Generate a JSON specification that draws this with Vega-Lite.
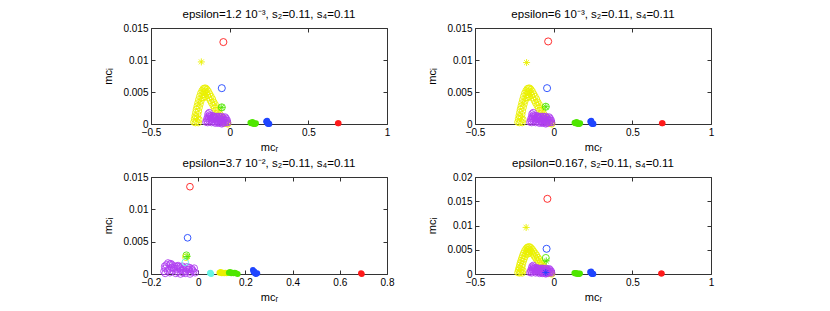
{
"$schema": "https://vega.github.io/schema/vega-lite/v6.json",
"padding": {"left": 102, "top": 8, "right": 5, "bottom": 5},
"config": {
 "view": {"stroke": null},
 "axis": {"domainColor": "#333333", "tickColor": "#333333", "tickSize": -4, "labelPadding": 7, "labelFont": "Liberation Sans", "labelFontSize": 10, "labelColor": "#000000", "titleFont": "Liberation Sans", "titleFontSize": 11, "titleFontWeight": "normal", "titleColor": "#000000", "grid": false, "labelFlush": false, "labelOverlap": false, "titlePadding": 4, "format": ".4~g"},
 "axisY": {"titlePadding": 9},
 "title": {"font": "Liberation Sans", "fontSize": 11.5, "fontWeight": "normal", "frame": "group", "anchor": "middle", "offset": 3, "color": "#000000"}
},
"datasets": {
 "arch": [
  {"s":"yellow","x":-0.228,"y":0.0003},{"s":"yellow","x":-0.224,"y":0.0008},{"s":"yellow","x":-0.22,"y":0.0013},{"s":"yellow","x":-0.216,"y":0.0018},{"s":"yellow","x":-0.212,"y":0.0023},{"s":"yellow","x":-0.207,"y":0.0028},{"s":"yellow","x":-0.202,"y":0.0033},{"s":"yellow","x":-0.197,"y":0.0038},{"s":"yellow","x":-0.191,"y":0.0043},{"s":"yellow","x":-0.184,"y":0.0048},{"s":"yellow","x":-0.176,"y":0.0052},{"s":"yellow","x":-0.168,"y":0.0055},{"s":"yellow","x":-0.16,"y":0.0056},
  {"s":"yellow","x":-0.21,"y":0.0004},{"s":"yellow","x":-0.206,"y":0.0009},{"s":"yellow","x":-0.202,"y":0.0015},{"s":"yellow","x":-0.198,"y":0.002},{"s":"yellow","x":-0.193,"y":0.0026},{"s":"yellow","x":-0.188,"y":0.0031},{"s":"yellow","x":-0.182,"y":0.0036},{"s":"yellow","x":-0.176,"y":0.0041},{"s":"yellow","x":-0.17,"y":0.0046},{"s":"yellow","x":-0.164,"y":0.005},
  {"s":"yellow","x":-0.218,"y":0.0002},{"s":"yellow","x":-0.2,"y":0.0002},{"s":"yellow","x":-0.195,"y":0.0007},{"s":"yellow","x":-0.215,"y":0.0011},
  {"s":"yellow","x":-0.152,"y":0.0056},{"s":"yellow","x":-0.144,"y":0.0054},{"s":"yellow","x":-0.136,"y":0.0051},{"s":"yellow","x":-0.127,"y":0.0047},{"s":"yellow","x":-0.118,"y":0.0043},{"s":"yellow","x":-0.109,"y":0.0039},{"s":"yellow","x":-0.1,"y":0.0034},{"s":"yellow","x":-0.091,"y":0.003},{"s":"yellow","x":-0.082,"y":0.0025},{"s":"yellow","x":-0.073,"y":0.0021},{"s":"yellow","x":-0.064,"y":0.0016},{"s":"yellow","x":-0.055,"y":0.0012},{"s":"yellow","x":-0.046,"y":0.0009},{"s":"yellow","x":-0.037,"y":0.0006},{"s":"yellow","x":-0.028,"y":0.0003},{"s":"yellow","x":-0.02,"y":0.0001},{"s":"yellow","x":-0.012,"y":0.0},
  {"s":"yellow","x":-0.156,"y":0.0051},{"s":"yellow","x":-0.149,"y":0.0048},{"s":"yellow","x":-0.141,"y":0.0045},{"s":"yellow","x":-0.133,"y":0.0041},{"s":"yellow","x":-0.124,"y":0.0037},{"s":"yellow","x":-0.115,"y":0.0033},{"s":"yellow","x":-0.106,"y":0.0029},{"s":"yellow","x":-0.097,"y":0.0025},{"s":"yellow","x":-0.088,"y":0.0021},{"s":"yellow","x":-0.079,"y":0.0017},{"s":"yellow","x":-0.07,"y":0.0013},{"s":"yellow","x":-0.061,"y":0.0009},{"s":"yellow","x":-0.052,"y":0.0006},{"s":"yellow","x":-0.043,"y":0.0003},{"s":"yellow","x":-0.034,"y":0.0001},
  {"s":"yellow","x":-0.162,"y":0.0046},{"s":"yellow","x":-0.157,"y":0.0043},{"s":"yellow","x":-0.166,"y":0.0041},
  {"s":"purple","x":-0.152,"y":0.0003},{"s":"purple","x":-0.146,"y":0.0008},{"s":"purple","x":-0.14,"y":0.0012},{"s":"purple","x":-0.13,"y":0.0018},{"s":"purple","x":-0.125,"y":0.0011},{"s":"purple","x":-0.12,"y":0.0006},{"s":"purple","x":-0.115,"y":0.0002},{"s":"purple","x":-0.11,"y":0.001},{"s":"purple","x":-0.105,"y":0.0013},{"s":"purple","x":-0.1,"y":0.0008},{"s":"purple","x":-0.095,"y":0.0003},{"s":"purple","x":-0.09,"y":0.0011},{"s":"purple","x":-0.085,"y":0.0006},{"s":"purple","x":-0.08,"y":0.0012},{"s":"purple","x":-0.075,"y":0.0002},{"s":"purple","x":-0.07,"y":0.0009},{"s":"purple","x":-0.065,"y":0.0005},{"s":"purple","x":-0.06,"y":0.0011},{"s":"purple","x":-0.055,"y":0.0002},{"s":"purple","x":-0.05,"y":0.0008},{"s":"purple","x":-0.045,"y":0.0004},{"s":"purple","x":-0.04,"y":0.001},{"s":"purple","x":-0.035,"y":0.0003},{"s":"purple","x":-0.03,"y":0.0007},{"s":"purple","x":-0.025,"y":0.0002},{"s":"purple","x":-0.02,"y":0.0005},{"s":"purple","x":-0.012,"y":0.0002},{"s":"purple","x":-0.14,"y":0.0002},{"s":"purple","x":-0.13,"y":0.0005},{"s":"purple","x":-0.11,"y":0.0004},{"s":"purple","x":-0.09,"y":0.0001},{"s":"purple","x":-0.07,"y":0.0001},{"s":"purple","x":-0.05,"y":0.0},{"s":"purple","x":-0.12,"y":0.0013},{"s":"purple","x":-0.1,"y":0.0012},{"s":"purple","x":-0.06,"y":0.0005},{"s":"purple","x":-0.135,"y":0.0009},{"s":"purple","x":-0.028,"y":0.0011},
  {"s":"purple","x":-0.145,"y":0.0005},{"s":"purple","x":-0.118,"y":0.0009},{"s":"purple","x":-0.108,"y":0.0007},{"s":"purple","x":-0.098,"y":0.0011},{"s":"purple","x":-0.088,"y":0.0009},{"s":"purple","x":-0.078,"y":0.0006},{"s":"purple","x":-0.068,"y":0.0012},{"s":"purple","x":-0.058,"y":0.0008},{"s":"purple","x":-0.048,"y":0.0012},{"s":"purple","x":-0.038,"y":0.0006},{"s":"purple","x":-0.022,"y":0.0009},{"s":"purple","x":-0.015,"y":0.0006},{"s":"purple","x":-0.128,"y":0.0014},{"s":"purple","x":-0.138,"y":0.0016},{"s":"purple","x":-0.082,"y":0.0003},{"s":"purple","x":-0.062,"y":0.0002},{"s":"purple","x":-0.042,"y":0.0001}
 ],
 "pts": [
  {"p":1,"m":"o","s":"red","x":-0.04,"y":0.0128},{"p":1,"m":"o","s":"blue","x":-0.05,"y":0.0056},{"p":1,"m":"o","s":"green","x":-0.05,"y":0.0026},
  {"p":1,"m":"*","s":"yellow","x":-0.18,"y":0.0097},{"p":1,"m":"*","s":"green","x":-0.05,"y":0.0026},
  {"p":1,"m":"f","s":"green","x":0.132,"y":0.0002},{"p":1,"m":"f","s":"green","x":0.137,"y":0.0001},{"p":1,"m":"f","s":"green","x":0.142,"y":0.0002},{"p":1,"m":"f","s":"green","x":0.147,"y":0.0001},{"p":1,"m":"f","s":"green","x":0.152,"y":0.0},{"p":1,"m":"f","s":"green","x":0.157,"y":0.0001},{"p":1,"m":"f","s":"green","x":0.162,"y":0.0},{"p":1,"m":"f","s":"green","x":0.167,"y":0.0001},{"p":1,"m":"f","s":"green","x":0.145,"y":0.0003},
  {"p":1,"m":"f","s":"blue","x":0.232,"y":0.0004},{"p":1,"m":"f","s":"blue","x":0.236,"y":0.0003},{"p":1,"m":"f","s":"blue","x":0.24,"y":0.0001},{"p":1,"m":"f","s":"blue","x":0.244,"y":0.0},{"p":1,"m":"f","s":"blue","x":0.248,"y":0.0001},{"p":1,"m":"f","s":"blue","x":0.252,"y":0.0},{"p":1,"m":"f","s":"blue","x":0.238,"y":0.0005},
  {"p":1,"m":"f","s":"red","x":0.688,"y":0.0001},{"p":1,"m":"f","s":"red","x":0.692,"y":0.0001},

  {"p":2,"m":"o","s":"red","x":-0.035,"y":0.0129},{"p":2,"m":"o","s":"blue","x":-0.042,"y":0.0056},{"p":2,"m":"o","s":"green","x":-0.05,"y":0.0027},
  {"p":2,"m":"*","s":"yellow","x":-0.172,"y":0.0096},{"p":2,"m":"*","s":"green","x":-0.05,"y":0.0027},
  {"p":2,"m":"f","s":"green","x":0.133,"y":0.0002},{"p":2,"m":"f","s":"green","x":0.138,"y":0.0001},{"p":2,"m":"f","s":"green","x":0.143,"y":0.0002},{"p":2,"m":"f","s":"green","x":0.148,"y":0.0001},{"p":2,"m":"f","s":"green","x":0.153,"y":0.0},{"p":2,"m":"f","s":"green","x":0.158,"y":0.0001},{"p":2,"m":"f","s":"green","x":0.163,"y":0.0},{"p":2,"m":"f","s":"green","x":0.168,"y":0.0001},{"p":2,"m":"f","s":"green","x":0.146,"y":0.0003},
  {"p":2,"m":"f","s":"blue","x":0.233,"y":0.0004},{"p":2,"m":"f","s":"blue","x":0.237,"y":0.0003},{"p":2,"m":"f","s":"blue","x":0.241,"y":0.0001},{"p":2,"m":"f","s":"blue","x":0.245,"y":0.0},{"p":2,"m":"f","s":"blue","x":0.249,"y":0.0001},{"p":2,"m":"f","s":"blue","x":0.253,"y":0.0},{"p":2,"m":"f","s":"blue","x":0.239,"y":0.0005},
  {"p":2,"m":"f","s":"red","x":0.688,"y":0.0001},{"p":2,"m":"f","s":"red","x":0.692,"y":0.0001},

  {"p":3,"m":"o","s":"purple","x":-0.145,"y":0.0004},{"p":3,"m":"o","s":"purple","x":-0.14,"y":0.0009},{"p":3,"m":"o","s":"purple","x":-0.135,"y":0.0014},{"p":3,"m":"o","s":"purple","x":-0.128,"y":0.0017},{"p":3,"m":"o","s":"purple","x":-0.12,"y":0.0015},{"p":3,"m":"o","s":"purple","x":-0.113,"y":0.001},{"p":3,"m":"o","s":"purple","x":-0.107,"y":0.0005},{"p":3,"m":"o","s":"purple","x":-0.1,"y":0.0012},{"p":3,"m":"o","s":"purple","x":-0.093,"y":0.0008},{"p":3,"m":"o","s":"purple","x":-0.087,"y":0.0003},{"p":3,"m":"o","s":"purple","x":-0.08,"y":0.0011},{"p":3,"m":"o","s":"purple","x":-0.073,"y":0.0006},{"p":3,"m":"o","s":"purple","x":-0.067,"y":0.0012},{"p":3,"m":"o","s":"purple","x":-0.06,"y":0.0009},{"p":3,"m":"o","s":"purple","x":-0.053,"y":0.0004},{"p":3,"m":"o","s":"purple","x":-0.047,"y":0.0011},{"p":3,"m":"o","s":"purple","x":-0.04,"y":0.0007},{"p":3,"m":"o","s":"purple","x":-0.033,"y":0.0003},{"p":3,"m":"o","s":"purple","x":-0.027,"y":0.0008},{"p":3,"m":"o","s":"purple","x":-0.02,"y":0.0004},{"p":3,"m":"o","s":"purple","x":-0.013,"y":0.0002},{"p":3,"m":"o","s":"purple","x":-0.14,"y":0.0001},{"p":3,"m":"o","s":"purple","x":-0.13,"y":0.0005},{"p":3,"m":"o","s":"purple","x":-0.12,"y":0.0002},{"p":3,"m":"o","s":"purple","x":-0.11,"y":0.0014},{"p":3,"m":"o","s":"purple","x":-0.095,"y":0.0001},{"p":3,"m":"o","s":"purple","x":-0.075,"y":0.0},{"p":3,"m":"o","s":"purple","x":-0.055,"y":0.0001},{"p":3,"m":"o","s":"purple","x":-0.035,"y":0.0},{"p":3,"m":"o","s":"purple","x":-0.085,"y":0.0013},{"p":3,"m":"o","s":"purple","x":-0.065,"y":0.0002},
  {"p":3,"m":"o","s":"purple","x":-0.142,"y":0.0012},{"p":3,"m":"o","s":"purple","x":-0.124,"y":0.0008},{"p":3,"m":"o","s":"purple","x":-0.116,"y":0.0016},{"p":3,"m":"o","s":"purple","x":-0.104,"y":0.0009},{"p":3,"m":"o","s":"purple","x":-0.09,"y":0.0012},{"p":3,"m":"o","s":"purple","x":-0.077,"y":0.0009},{"p":3,"m":"o","s":"purple","x":-0.063,"y":0.0006},{"p":3,"m":"o","s":"purple","x":-0.05,"y":0.0008},{"p":3,"m":"o","s":"purple","x":-0.037,"y":0.001},{"p":3,"m":"o","s":"purple","x":-0.024,"y":0.0006},{"p":3,"m":"o","s":"purple","x":-0.017,"y":0.0009},
  {"p":3,"m":"o","s":"red","x":-0.035,"y":0.0135},{"p":3,"m":"o","s":"blue","x":-0.045,"y":0.0056},{"p":3,"m":"o","s":"green","x":-0.05,"y":0.0029},{"p":3,"m":"o","s":"yellow","x":-0.052,"y":0.0026},{"p":3,"m":"o","s":"cyan","x":-0.055,"y":0.0018},
  {"p":3,"m":"*","s":"green","x":-0.047,"y":0.0027},
  {"p":3,"m":"f","s":"cyan","x":0.05,"y":0.0001},{"p":3,"m":"f","s":"cyan","x":0.055,"y":0.0},{"p":3,"m":"f","s":"cyan","x":0.052,"y":0.0002},
  {"p":3,"m":"f","s":"yellow","x":0.09,"y":0.0002},{"p":3,"m":"f","s":"yellow","x":0.095,"y":0.0003},{"p":3,"m":"f","s":"yellow","x":0.1,"y":0.0001},{"p":3,"m":"f","s":"yellow","x":0.105,"y":0.0002},{"p":3,"m":"f","s":"yellow","x":0.11,"y":0.0001},{"p":3,"m":"f","s":"yellow","x":0.115,"y":0.0002},{"p":3,"m":"f","s":"yellow","x":0.12,"y":0.0001},{"p":3,"m":"f","s":"yellow","x":0.125,"y":0.0002},
  {"p":3,"m":"f","s":"green","x":0.13,"y":0.0002},{"p":3,"m":"f","s":"green","x":0.135,"y":0.0003},{"p":3,"m":"f","s":"green","x":0.14,"y":0.0001},{"p":3,"m":"f","s":"green","x":0.145,"y":0.0002},{"p":3,"m":"f","s":"green","x":0.15,"y":0.0001},{"p":3,"m":"f","s":"green","x":0.155,"y":0.0002},{"p":3,"m":"f","s":"green","x":0.16,"y":0.0001},{"p":3,"m":"f","s":"green","x":0.167,"y":0.0},
  {"p":3,"m":"f","s":"blue","x":0.232,"y":0.0006},{"p":3,"m":"f","s":"blue","x":0.235,"y":0.0003},{"p":3,"m":"f","s":"blue","x":0.24,"y":0.0001},{"p":3,"m":"f","s":"blue","x":0.245,"y":0.0},{"p":3,"m":"f","s":"blue","x":0.25,"y":0.0001},{"p":3,"m":"f","s":"blue","x":0.238,"y":0.0004},
  {"p":3,"m":"f","s":"red","x":0.69,"y":0.0001},{"p":3,"m":"f","s":"red","x":0.693,"y":0.0},

  {"p":4,"m":"o","s":"red","x":-0.04,"y":0.0155},{"p":4,"m":"o","s":"blue","x":-0.045,"y":0.0052},{"p":4,"m":"o","s":"green","x":-0.05,"y":0.0033},
  {"p":4,"m":"*","s":"yellow","x":-0.175,"y":0.0096},{"p":4,"m":"*","s":"green","x":-0.047,"y":0.0027},{"p":4,"m":"*","s":"blue","x":-0.05,"y":0.0003},
  {"p":4,"m":"f","s":"green","x":0.132,"y":0.0002},{"p":4,"m":"f","s":"green","x":0.137,"y":0.0001},{"p":4,"m":"f","s":"green","x":0.142,"y":0.0002},{"p":4,"m":"f","s":"green","x":0.147,"y":0.0001},{"p":4,"m":"f","s":"green","x":0.152,"y":0.0},{"p":4,"m":"f","s":"green","x":0.157,"y":0.0001},{"p":4,"m":"f","s":"green","x":0.162,"y":0.0},{"p":4,"m":"f","s":"green","x":0.167,"y":0.0001},
  {"p":4,"m":"f","s":"blue","x":0.232,"y":0.0004},{"p":4,"m":"f","s":"blue","x":0.236,"y":0.0003},{"p":4,"m":"f","s":"blue","x":0.24,"y":0.0001},{"p":4,"m":"f","s":"blue","x":0.244,"y":0.0},{"p":4,"m":"f","s":"blue","x":0.248,"y":0.0001},{"p":4,"m":"f","s":"blue","x":0.252,"y":0.0},{"p":4,"m":"f","s":"blue","x":0.238,"y":0.0005},
  {"p":4,"m":"f","s":"red","x":0.683,"y":0.0001},{"p":4,"m":"f","s":"red","x":0.687,"y":0.0001}
 ]
},
"resolve": {"scale": {"x": "independent", "y": "independent", "color": "independent"}},
"spacing": 5,
"vconcat": [
 {"hconcat": [
  {"width": 236, "height": 96,
   "title": "epsilon=1.2 10⁻³, s₂=0.11, s₄=0.11",
   "encoding": {
    "x": {"field": "x", "type": "quantitative", "scale": {"domain": [-0.5, 1], "nice": false, "zero": false}, "axis": null},
    "y": {"field": "y", "type": "quantitative", "scale": {"domain": [0, 0.015], "nice": false, "zero": false}, "axis": null},
    "color": {"field": "s", "type": "nominal", "legend": null, "scale": {"domain": ["red","blue","green","yellow","purple","cyan"], "range": ["#ff1a1a","#1f45ff","#4fe600","#eaf000","#b040f0","#66f5e6"]}}
   },
   "layer": [
    {"data": {"name": "pts"}, "transform": [{"filter": "datum.p==1"}], "mark": {"type": "point", "opacity": 0},
     "encoding": {
      "x": {"field": "x", "type": "quantitative", "scale": {"domain": [-0.5, 1], "nice": false, "zero": false}, "axis": {"values": [-0.5, 0, 0.5, 1], "title": "mcᵣ", "orient": "bottom"}},
      "y": {"field": "y", "type": "quantitative", "scale": {"domain": [0, 0.015], "nice": false, "zero": false}, "axis": {"values": [0, 0.005, 0.01, 0.015], "title": "mcᵢ", "orient": "left"}}}},
    {"data": {"name": "arch"}, "mark": {"type": "point", "filled": false, "size": 40, "strokeWidth": 0.9, "opacity": 1}},
    {"data": {"name": "pts"}, "transform": [{"filter": "datum.p==1 && datum.m=='f'"}], "mark": {"type": "circle", "size": 36, "opacity": 1}},
    {"data": {"name": "pts"}, "transform": [{"filter": "datum.p==1 && datum.m=='o'"}], "mark": {"type": "point", "filled": false, "size": 50, "strokeWidth": 0.9, "opacity": 1}},
    {"data": {"name": "pts"}, "transform": [{"filter": "datum.p==1 && datum.m=='*'"}], "mark": {"type": "point", "filled": false, "size": 49, "strokeWidth": 0.9, "opacity": 1, "shape": "M-1,0L1,0M0,-1L0,1M-0.7,-0.7L0.7,0.7M-0.7,0.7L0.7,-0.7"}},
    {"data": {"name": "pts"}, "transform": [{"filter": "datum.p==1"}], "mark": {"type": "point", "opacity": 0},
     "encoding": {
      "x": {"field": "x", "type": "quantitative", "scale": {"domain": [-0.5, 1], "nice": false, "zero": false}, "axis": {"values": [-0.5, 0, 0.5, 1], "title": null, "labels": false, "orient": "top"}},
      "y": {"field": "y", "type": "quantitative", "scale": {"domain": [0, 0.015], "nice": false, "zero": false}, "axis": {"values": [0, 0.005, 0.01, 0.015], "title": null, "labels": false, "orient": "right"}}}}
   ],
   "resolve": {"axis": {"x": "independent", "y": "independent"}}
  },
  {"width": 236, "height": 96,
   "title": "epsilon=6 10⁻³, s₂=0.11, s₄=0.11",
   "encoding": {
    "x": {"field": "x", "type": "quantitative", "scale": {"domain": [-0.5, 1], "nice": false, "zero": false}, "axis": null},
    "y": {"field": "y", "type": "quantitative", "scale": {"domain": [0, 0.015], "nice": false, "zero": false}, "axis": null},
    "color": {"field": "s", "type": "nominal", "legend": null, "scale": {"domain": ["red","blue","green","yellow","purple","cyan"], "range": ["#ff1a1a","#1f45ff","#4fe600","#eaf000","#b040f0","#66f5e6"]}}
   },
   "layer": [
    {"data": {"name": "pts"}, "transform": [{"filter": "datum.p==2"}], "mark": {"type": "point", "opacity": 0},
     "encoding": {
      "x": {"field": "x", "type": "quantitative", "scale": {"domain": [-0.5, 1], "nice": false, "zero": false}, "axis": {"values": [-0.5, 0, 0.5, 1], "title": "mcᵣ", "orient": "bottom"}},
      "y": {"field": "y", "type": "quantitative", "scale": {"domain": [0, 0.015], "nice": false, "zero": false}, "axis": {"values": [0, 0.005, 0.01, 0.015], "title": "mcᵢ", "orient": "left"}}}},
    {"data": {"name": "arch"}, "mark": {"type": "point", "filled": false, "size": 40, "strokeWidth": 0.9, "opacity": 1}},
    {"data": {"name": "pts"}, "transform": [{"filter": "datum.p==2 && datum.m=='f'"}], "mark": {"type": "circle", "size": 36, "opacity": 1}},
    {"data": {"name": "pts"}, "transform": [{"filter": "datum.p==2 && datum.m=='o'"}], "mark": {"type": "point", "filled": false, "size": 50, "strokeWidth": 0.9, "opacity": 1}},
    {"data": {"name": "pts"}, "transform": [{"filter": "datum.p==2 && datum.m=='*'"}], "mark": {"type": "point", "filled": false, "size": 49, "strokeWidth": 0.9, "opacity": 1, "shape": "M-1,0L1,0M0,-1L0,1M-0.7,-0.7L0.7,0.7M-0.7,0.7L0.7,-0.7"}},
    {"data": {"name": "pts"}, "transform": [{"filter": "datum.p==2"}], "mark": {"type": "point", "opacity": 0},
     "encoding": {
      "x": {"field": "x", "type": "quantitative", "scale": {"domain": [-0.5, 1], "nice": false, "zero": false}, "axis": {"values": [-0.5, 0, 0.5, 1], "title": null, "labels": false, "orient": "top"}},
      "y": {"field": "y", "type": "quantitative", "scale": {"domain": [0, 0.015], "nice": false, "zero": false}, "axis": {"values": [0, 0.005, 0.01, 0.015], "title": null, "labels": false, "orient": "right"}}}}
   ],
   "resolve": {"axis": {"x": "independent", "y": "independent"}}
  }
 ], "spacing": 88, "bounds": "flush", "resolve": {"scale": {"x": "independent", "y": "independent", "color": "independent"}}},
 {"hconcat": [
  {"width": 236, "height": 97,
   "title": "epsilon=3.7 10⁻², s₂=0.11, s₄=0.11",
   "encoding": {
    "x": {"field": "x", "type": "quantitative", "scale": {"domain": [-0.2, 0.8], "nice": false, "zero": false}, "axis": null},
    "y": {"field": "y", "type": "quantitative", "scale": {"domain": [0, 0.015], "nice": false, "zero": false}, "axis": null},
    "color": {"field": "s", "type": "nominal", "legend": null, "scale": {"domain": ["red","blue","green","yellow","purple","cyan"], "range": ["#ff1a1a","#1f45ff","#4fe600","#eaf000","#b040f0","#66f5e6"]}}
   },
   "layer": [
    {"data": {"name": "pts"}, "transform": [{"filter": "datum.p==3"}], "mark": {"type": "point", "opacity": 0},
     "encoding": {
      "x": {"field": "x", "type": "quantitative", "scale": {"domain": [-0.2, 0.8], "nice": false, "zero": false}, "axis": {"values": [-0.2, 0, 0.2, 0.4, 0.6, 0.8], "title": "mcᵣ", "orient": "bottom"}},
      "y": {"field": "y", "type": "quantitative", "scale": {"domain": [0, 0.015], "nice": false, "zero": false}, "axis": {"values": [0, 0.005, 0.01, 0.015], "title": "mcᵢ", "orient": "left"}}}},
    {"data": {"name": "pts"}, "transform": [{"filter": "datum.p==3 && datum.m=='f'"}], "mark": {"type": "circle", "size": 36, "opacity": 1}},
    {"data": {"name": "pts"}, "transform": [{"filter": "datum.p==3 && datum.m=='o'"}], "mark": {"type": "point", "filled": false, "size": 45, "strokeWidth": 0.9, "opacity": 1}},
    {"data": {"name": "pts"}, "transform": [{"filter": "datum.p==3 && datum.m=='*'"}], "mark": {"type": "point", "filled": false, "size": 49, "strokeWidth": 0.9, "opacity": 1, "shape": "M-1,0L1,0M0,-1L0,1M-0.7,-0.7L0.7,0.7M-0.7,0.7L0.7,-0.7"}},
    {"data": {"name": "pts"}, "transform": [{"filter": "datum.p==3"}], "mark": {"type": "point", "opacity": 0},
     "encoding": {
      "x": {"field": "x", "type": "quantitative", "scale": {"domain": [-0.2, 0.8], "nice": false, "zero": false}, "axis": {"values": [-0.2, 0, 0.2, 0.4, 0.6, 0.8], "title": null, "labels": false, "orient": "top"}},
      "y": {"field": "y", "type": "quantitative", "scale": {"domain": [0, 0.015], "nice": false, "zero": false}, "axis": {"values": [0, 0.005, 0.01, 0.015], "title": null, "labels": false, "orient": "right"}}}}
   ],
   "resolve": {"axis": {"x": "independent", "y": "independent"}}
  },
  {"width": 236, "height": 97,
   "title": "epsilon=0.167, s₂=0.11, s₄=0.11",
   "encoding": {
    "x": {"field": "x", "type": "quantitative", "scale": {"domain": [-0.5, 1], "nice": false, "zero": false}, "axis": null},
    "y": {"field": "y", "type": "quantitative", "scale": {"domain": [0, 0.02], "nice": false, "zero": false}, "axis": null},
    "color": {"field": "s", "type": "nominal", "legend": null, "scale": {"domain": ["red","blue","green","yellow","purple","cyan"], "range": ["#ff1a1a","#1f45ff","#4fe600","#eaf000","#b040f0","#66f5e6"]}}
   },
   "layer": [
    {"data": {"name": "pts"}, "transform": [{"filter": "datum.p==4"}], "mark": {"type": "point", "opacity": 0},
     "encoding": {
      "x": {"field": "x", "type": "quantitative", "scale": {"domain": [-0.5, 1], "nice": false, "zero": false}, "axis": {"values": [-0.5, 0, 0.5, 1], "title": "mcᵣ", "orient": "bottom"}},
      "y": {"field": "y", "type": "quantitative", "scale": {"domain": [0, 0.02], "nice": false, "zero": false}, "axis": {"values": [0, 0.005, 0.01, 0.015, 0.02], "title": "mcᵢ", "orient": "left"}}}},
    {"data": {"name": "arch"}, "mark": {"type": "point", "filled": false, "size": 40, "strokeWidth": 0.9, "opacity": 1}},
    {"data": {"name": "pts"}, "transform": [{"filter": "datum.p==4 && datum.m=='f'"}], "mark": {"type": "circle", "size": 36, "opacity": 1}},
    {"data": {"name": "pts"}, "transform": [{"filter": "datum.p==4 && datum.m=='o'"}], "mark": {"type": "point", "filled": false, "size": 50, "strokeWidth": 0.9, "opacity": 1}},
    {"data": {"name": "pts"}, "transform": [{"filter": "datum.p==4 && datum.m=='*'"}], "mark": {"type": "point", "filled": false, "size": 49, "strokeWidth": 0.9, "opacity": 1, "shape": "M-1,0L1,0M0,-1L0,1M-0.7,-0.7L0.7,0.7M-0.7,0.7L0.7,-0.7"}},
    {"data": {"name": "pts"}, "transform": [{"filter": "datum.p==4"}], "mark": {"type": "point", "opacity": 0},
     "encoding": {
      "x": {"field": "x", "type": "quantitative", "scale": {"domain": [-0.5, 1], "nice": false, "zero": false}, "axis": {"values": [-0.5, 0, 0.5, 1], "title": null, "labels": false, "orient": "top"}},
      "y": {"field": "y", "type": "quantitative", "scale": {"domain": [0, 0.02], "nice": false, "zero": false}, "axis": {"values": [0, 0.005, 0.01, 0.015, 0.02], "title": null, "labels": false, "orient": "right"}}}}
   ],
   "resolve": {"axis": {"x": "independent", "y": "independent"}}
  }
 ], "spacing": 88, "bounds": "flush", "resolve": {"scale": {"x": "independent", "y": "independent", "color": "independent"}}}
]
}
